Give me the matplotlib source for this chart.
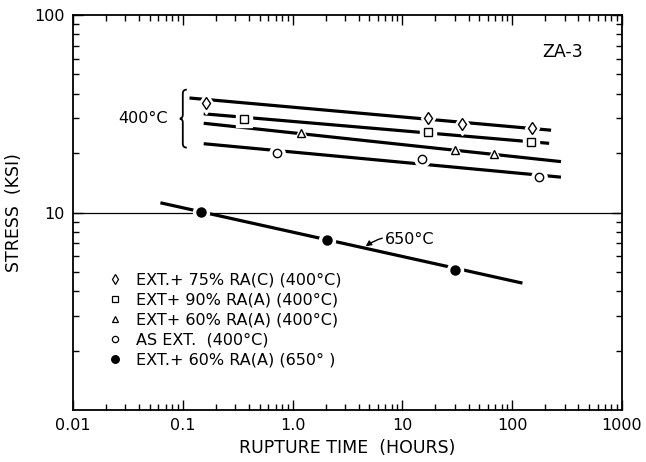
import numpy as np
import matplotlib
matplotlib.use("Agg")
import matplotlib.pyplot as plt
from matplotlib.lines import Line2D
from matplotlib.path import Path
from matplotlib.patches import PathPatch
from matplotlib.ticker import NullFormatter, LogLocator

plt.rcParams['font.family'] = ['DejaVu Sans']

# ---- data (rupture time in hours, stress in ksi) ----
labels = ["EXT.+ 75% RA(C) (400°C)",
          "EXT+ 90% RA(A) (400°C)",
          "EXT+ 60% RA(A) (400°C)",
          "AS EXT.  (400°C)",
          "EXT.+ 60% RA(A) (650° )"]

diamond_t = [0.162, 17.2, 35.0, 152.0]
diamond_s = [35.9, 30.1, 28.2, 26.8]
diamond_fit_t = [0.115, 226.0]
diamond_fit_s = [38.0, 26.1]

square_t = [0.358, 17.2, 147.0]
square_s = [29.9, 25.5, 22.7]
square_fit_t = [0.155, 217.0]
square_fit_s = [31.6, 22.4]

triangle_t = [1.19, 30.2, 68.6]
triangle_s = [25.3, 20.7, 19.7]
triangle_fit_t = [0.155, 278.0]
triangle_fit_s = [28.3, 18.1]

circle_t = [0.714, 15.0, 177.0]
circle_s = [20.0, 18.6, 15.2]
circle_fit_t = [0.155, 278.0]
circle_fit_s = [22.3, 15.1]

filled_t = [0.148, 2.07, 30.2]
filled_s = [10.07, 7.28, 5.14]
filled_fit_t = [0.0625, 124.0]
filled_fit_s = [11.2, 4.39]

xticks = [0.01, 0.1, 1.0, 10, 100, 1000]
xticklabels = ["0.01", "0.1", "1.0", "10", "100", "1000"]
yticks = [10, 100]
yticklabels = ["10", "100"]

fig = plt.figure(figsize=(6.46, 4.62), dpi=100)
ax = fig.add_axes([73/646, 1-410/462, (622-73)/646, (410-15)/462])
ax.set_xscale('log')
ax.set_yscale('log')
ax.set_xlim(0.01, 1000)
ax.set_ylim(1.0, 100)

# reference line at 10 ksi
ax.axhline(10, color='black', lw=0.9, zorder=1)

series = [
    (diamond_fit_t, diamond_fit_s, diamond_t, diamond_s, 'd', 'white', 6.5),
    (square_fit_t, square_fit_s, square_t, square_s, 's', 'white', 6),
    (triangle_fit_t, triangle_fit_s, triangle_t, triangle_s, '^', 'white', 5.5),
    (circle_fit_t, circle_fit_s, circle_t, circle_s, 'o', 'white', 6),
    (filled_fit_t, filled_fit_s, filled_t, filled_s, 'o', 'black', 6.5),
]
for ft, fs, t, s, m, fc, ms in series:
    ax.plot(ft, fs, color='black', lw=2.3, solid_capstyle='butt', zorder=2)
    ax.plot(t, s, ls='none', marker=m, ms=ms + 5, mfc='white', mec='white', zorder=3)
    ax.plot(t, s, ls='none', marker=m, ms=ms, mfc=fc, mec='black', mew=1.0, zorder=4)

# ticks
ax.set_xticks(xticks)
ax.set_xticklabels(xticklabels)
ax.set_yticks(yticks)
ax.set_yticklabels(yticklabels)
ax.xaxis.set_minor_locator(LogLocator(base=10, subs=np.arange(2, 10)))
ax.yaxis.set_minor_locator(LogLocator(base=10, subs=np.arange(2, 10)))
ax.xaxis.set_minor_formatter(NullFormatter())
ax.yaxis.set_minor_formatter(NullFormatter())
ax.tick_params(which='both', direction='in', top=True, right=True, width=1.0, labelsize=11.5, pad=6)
ax.tick_params(which='major', length=7)
ax.tick_params(which='minor', length=4)
for sp in ax.spines.values():
    sp.set_linewidth(1.3)

ax.set_xlabel("RUPTURE TIME  (HOURS)", fontsize=12.5, labelpad=4)
ax.set_ylabel("STRESS  (KSI)", fontsize=12.5, labelpad=8)

# annotations
ax.text(286, 65, "ZA-3", fontsize=12.5, ha='center', va='center')
ax.text(0.043, 29.9, "400°C", fontsize=11.5, ha='center', va='center')
ax.annotate("650°C", xy=(4.63, 6.74), xytext=(6.95, 7.34), fontsize=11.5,
            ha='left', va='center',
            arrowprops=dict(arrowstyle='-|>', color='black', lw=1.0,
                            mutation_scale=8, shrinkA=0, shrinkB=0,
                            connectionstyle='arc3,rad=0.25'))

# brace for 400°C group
fig.canvas.draw()
x0, ytop = ax.transData.transform((0.1, 41.9))
_, ybot = ax.transData.transform((0.1, 21.3))
ymid = (ytop + ybot) / 2
verts = [(x0 + 4, ytop), (x0, ytop), (x0, ytop - 4),
         (x0, ymid + 4), (x0, ymid), (x0 - 3, ymid),
         (x0, ymid), (x0, ymid - 4),
         (x0, ybot + 4), (x0, ybot), (x0 + 4, ybot)]
codes = [Path.MOVETO, Path.CURVE3, Path.CURVE3,
         Path.LINETO, Path.CURVE3, Path.CURVE3,
         Path.CURVE3, Path.CURVE3,
         Path.LINETO, Path.CURVE3, Path.CURVE3]
brace = PathPatch(Path(verts, codes), transform=None, fill=False, lw=1.3, color='black')
fig.add_artist(brace)

# legend
handles = [
    Line2D([], [], ls='none', marker='d', ms=5, mfc='white', mec='black', mew=0.9),
    Line2D([], [], ls='none', marker='s', ms=4.5, mfc='white', mec='black', mew=0.9),
    Line2D([], [], ls='none', marker='^', ms=4.5, mfc='white', mec='black', mew=0.9),
    Line2D([], [], ls='none', marker='o', ms=4.5, mfc='white', mec='black', mew=0.9),
    Line2D([], [], ls='none', marker='o', ms=5.5, mfc='black', mec='black', mew=0.9),
]
ax.legend(handles, labels, loc='center left', bbox_to_anchor=(0.0627, 0.228),
          frameon=False, fontsize=11.5, handlelength=1.0, handletextpad=0.8,
          labelspacing=0.32, borderpad=0, borderaxespad=0, numpoints=1)

fig.savefig("out.png", dpi=100)
